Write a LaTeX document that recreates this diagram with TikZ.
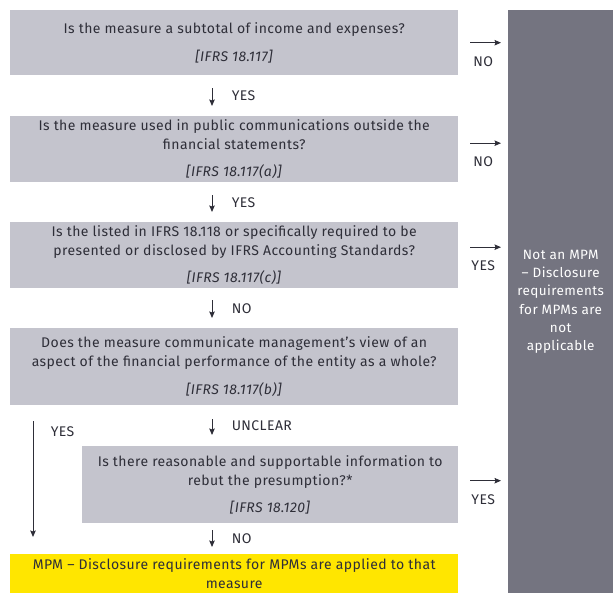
\documentclass[tikz,border=0pt]{standalone}
\usepackage{fontspec}
\setmainfont{Fira Sans}[LetterSpace=3]
\usetikzlibrary{arrows.meta}
\definecolor{qgray}{HTML}{C4C4CD}
\definecolor{panelgray}{HTML}{747480}
\definecolor{eytext}{HTML}{2E2E38}
\definecolor{eyyellow}{HTML}{FFE600}

\begin{document}
\begin{tikzpicture}[x=1pt, y=-1pt,
    every node/.style={font=\fontsize{14}{19}\selectfont, text=eytext},
    qbox/.style={fill=qgray, anchor=north west, align=center, inner sep=0pt, minimum width=448pt},
    arr/.style={-{Stealth[length=6.5pt, width=5.5pt, inset=1pt]}, line width=0.9pt, color=eytext}]
    \useasboundingbox (0,0) rectangle (613,593);

    % Hilfslinien fuer die Pfeile
    \coordinate (spine) at (212,0);
    \coordinate (leftx) at (33,0);

    % Ergebnis rechts
    \node[fill=panelgray, anchor=north west, minimum width=105pt, minimum height=583pt, inner sep=0pt,
          align=center, text=white, font=\fontsize{13.5}{18.3}\selectfont] (notmpm) at (508,10)
        {Not an MPM\\ -- Disclosure\\ requirements\\ for MPMs are\\ not\\ applicable};

    % Frage 1
    \node[qbox, minimum height=65pt] (q1) at (10,10)
        {Is the measure a subtotal of income and expenses?\\[8.5pt] \textit{[IFRS 18.117]}};

    % Frage 2
    \node[qbox, minimum height=66pt] (q2) at (10,116)
        {Is the measure used in public communications outside the\\ financial statements?\\[8.5pt] \textit{[IFRS 18.117(a)]}};

    % Frage 3
    \node[qbox, minimum height=66pt] (q3) at (10,222)
        {Is the listed in IFRS 18.118 or specifically required to be\\ presented or disclosed by IFRS Accounting Standards?\\[8.5pt] \textit{[IFRS 18.117(c)]}};

    % Frage 4
    \node[qbox, minimum height=77pt] (q4) at (10,328)
        {Does the measure communicate management's view of an\\ aspect of the financial performance of the entity as a whole?\\[8.5pt] \textit{[IFRS 18.117(b)]}};

    % Frage 5
    \node[qbox, minimum width=376pt, minimum height=77pt] (q5) at (82,446)
        {Is there reasonable and supportable information to\\ rebut the presumption?*\\[8.5pt] \textit{[IFRS 18.120]}};

    % Ergebnis unten
    \node[fill=eyyellow, anchor=north west, minimum width=448pt, minimum height=39pt, inner sep=0pt, align=center] (mpm) at (10,554)
        {MPM -- Disclosure requirements for MPMs are applied to that\\ measure};

    % Pfeile nach unten
    \draw[arr, shorten <=13pt, shorten >=10pt] (q1.south -| spine) -- (q2.north -| spine) node[midway, right=16pt] {YES};
    \draw[arr, shorten <=13pt, shorten >=10pt] (q2.south -| spine) -- (q3.north -| spine) node[midway, right=16pt] {YES};
    \draw[arr, shorten <=12pt, shorten >=10pt] (q3.south -| spine) -- (q4.north -| spine) node[midway, right=16pt] {NO};
    \draw[arr, shorten <=14pt, shorten >=11pt] (q4.south -| spine) -- (q5.north -| spine) node[midway, right=16pt] {UNCLEAR};
    \draw[arr, shorten <=7pt, shorten >=7pt] (q5.south -| spine) -- (mpm.north -| spine) node[midway, right=16pt] {NO};
    \draw[arr, shorten <=16pt, shorten >=17pt] (q4.south -| leftx) -- (mpm.north -| leftx) node[pos=0.175, right=14pt] {YES};

    % Pfeile nach rechts
    \draw[arr, shorten <=12pt, shorten >=7pt] (q1.east) -- (q1.east -| notmpm.west) node[midway, below=10pt] {NO};
    \draw[arr, shorten <=12pt, shorten >=7pt] ([yshift=6pt]q2.east) -- ([yshift=6pt]q2.east -| notmpm.west) node[midway, below=10pt] {NO};
    \draw[arr, shorten <=12pt, shorten >=7pt] ([yshift=8pt]q3.east) -- ([yshift=8pt]q3.east -| notmpm.west) node[midway, below=10pt] {YES};
    \draw[arr, shorten <=12pt, shorten >=7pt] ([yshift=4pt]q5.east) -- ([yshift=4pt]q5.east -| notmpm.west) node[midway, below=10pt] {YES};
\end{tikzpicture}
\end{document}
